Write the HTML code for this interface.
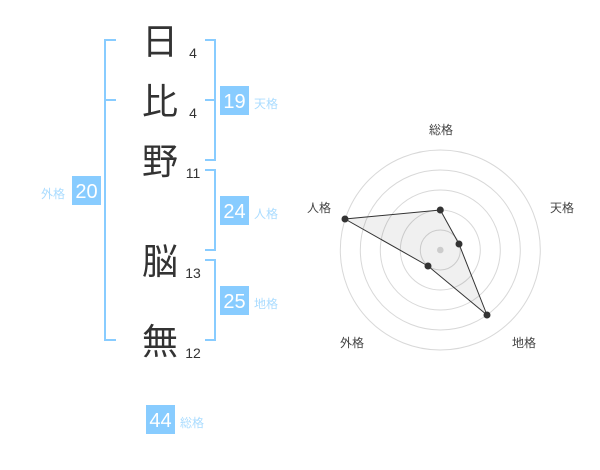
<!DOCTYPE html>
<html><head><meta charset="utf-8">
<style>
html,body{margin:0;padding:0;background:#fff;}
svg{display:block;font-family:"Liberation Sans","Noto Sans CJK JP",sans-serif;}
.k{font-size:36px;fill:#333;text-anchor:middle;}
.n{font-size:14px;fill:#333;text-anchor:middle;}
.b{font-size:20px;fill:#fff;text-anchor:middle;}
.l{font-size:12px;fill:#aadcff;}
.r{font-size:12px;fill:#444;text-anchor:middle;}
</style></head><body>
<svg width="600" height="470" viewBox="0 0 600 470" xmlns="http://www.w3.org/2000/svg">
<g fill="none" stroke="#88ccff" stroke-width="2">
<path d="M116 40H105V340H116M105 100H116"/>
<path d="M205 40H215V160H205M205 100H215"/>
<path d="M205 170H215V250H205"/>
<path d="M205 260H215V340H205"/>
</g>
<text class="k" x="160" y="54">日</text>
<text class="k" x="160" y="114">比</text>
<text class="k" x="160" y="174">野</text>
<text class="k" x="160" y="274">脳</text>
<text class="k" x="160" y="354">無</text>
<text class="n" x="193" y="58">4</text>
<text class="n" x="193" y="118">4</text>
<text class="n" x="193" y="178">11</text>
<text class="n" x="193" y="278">13</text>
<text class="n" x="193" y="358">12</text>
<g fill="#88ccff">
<rect x="220" y="86" width="29" height="29"/>
<rect x="72" y="176" width="29" height="29"/>
<rect x="220" y="196" width="29" height="29"/>
<rect x="220" y="286" width="29" height="29"/>
<rect x="146" y="405" width="29" height="29"/>
</g>
<text class="b" x="234.500" y="108">19</text>
<text class="b" x="86.500" y="198">20</text>
<text class="b" x="234.500" y="218">24</text>
<text class="b" x="234.500" y="308">25</text>
<text class="b" x="160.500" y="427">44</text>
<text class="l" x="254" y="108">天格</text>
<text class="l" x="41" y="198">外格</text>
<text class="l" x="254" y="218">人格</text>
<text class="l" x="254" y="308">地格</text>
<text class="l" x="180" y="427">総格</text>
<g fill="none" stroke="#d8d8d8" stroke-width="1">
<circle cx="440.300" cy="250" r="20"/>
<circle cx="440.300" cy="250" r="40"/>
<circle cx="440.300" cy="250" r="60"/>
<circle cx="440.300" cy="250" r="80"/>
<circle cx="440.300" cy="250" r="100"/>
</g>
<polygon points="440.300,210 459,244 487,315 428,266 345,219" fill="#000" fill-opacity="0.06" stroke="#333" stroke-width="1"/>
<circle cx="440.300" cy="250" r="3.300" fill="#ccc"/>
<g fill="#333">
<circle cx="440.300" cy="210" r="3.500"/>
<circle cx="459" cy="244" r="3.500"/>
<circle cx="487" cy="315" r="3.500"/>
<circle cx="428" cy="266" r="3.500"/>
<circle cx="345" cy="219" r="3.500"/>
</g>
<text class="r" x="441" y="134">総格</text>
<text class="r" x="562" y="212">天格</text>
<text class="r" x="524" y="347">地格</text>
<text class="r" x="352" y="347">外格</text>
<text class="r" x="319" y="212">人格</text>
</svg>
</body></html>
